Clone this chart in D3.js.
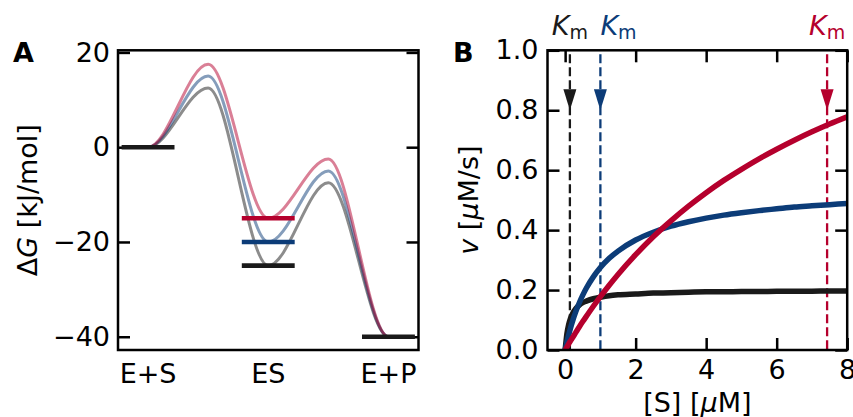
<!DOCTYPE html>
<html><head><meta charset="utf-8">
<script src="https://cdn.jsdelivr.net/npm/d3@7"></script>
<style>body{margin:0;background:#fff} svg{display:block} text{font-family:"DejaVu Sans",sans-serif}</style>
</head><body><svg id="c" width="853" height="417"></svg>
<script>
// ---------- Panel A data ----------
const stateLabels = ["E+S", "ES", "E+P"];
const statePos = [0, 2, 4];
const reactionCoord = [-0.4, 0, 1, 2, 3, 4, 4.4];
const energyBlack = [0, 0, 12.5, -25, -7.5, -40, -40];
const energyBlue  = [0, 0, 15.0, -20, -5.0, -40, -40];
const energyRed   = [0, 0, 17.5, -15, -2.5, -40, -40];
const levelsES = [-25, -20, -15];      // black, blue, red
const levelES0 = 0;                     // E+S level
const levelEP = -40;                    // E+P level
const yTicksA = [20, 0, -20, -40];

// ---------- Panel B data ----------
const substrate = [0, 0.05, 0.1, 0.15, 0.2, 0.3, 0.4, 0.5, 0.6, 0.8, 1.0, 1.25, 1.5, 2, 2.5, 3, 3.5, 4, 4.5, 5, 5.5, 6, 6.5, 7, 7.5, 8];
const vBlack = [0, 0.054, 0.085, 0.105, 0.119, 0.138, 0.150, 0.158, 0.163, 0.171, 0.176, 0.181, 0.184, 0.187, 0.190, 0.191, 0.193, 0.194, 0.194, 0.195, 0.195, 0.196, 0.196, 0.196, 0.197, 0.197];
const vBlue  = [0, 0.026, 0.050, 0.072, 0.092, 0.127, 0.157, 0.183, 0.206, 0.244, 0.275, 0.306, 0.330, 0.367, 0.393, 0.413, 0.428, 0.440, 0.450, 0.458, 0.465, 0.471, 0.477, 0.481, 0.485, 0.489];
const vRed   = [0, 0.010, 0.020, 0.030, 0.039, 0.058, 0.077, 0.095, 0.112, 0.146, 0.178, 0.216, 0.252, 0.318, 0.378, 0.431, 0.480, 0.525, 0.566, 0.603, 0.638, 0.670, 0.700, 0.728, 0.754, 0.778];
const kmValues = [0.135, 1.0, 7.43];    // black, blue, red
const kmArrowTip = 0.8;
const xTicksB = [0, 2, 4, 6, 8];
const yTicksB = [0, 0.2, 0.4, 0.6, 0.8, 1.0];

const colors = ["#1a1a1a", "#0c3c78", "#b5002d"];  // black, blue, red

const FS = 27;
const svg = d3.select("#c");

function frame(g, x0, x1, y0, y1) {
  g.append("rect").attr("x", x0).attr("y", y0).attr("width", x1 - x0).attr("height", y1 - y0)
    .attr("fill", "none").attr("stroke", "#000").attr("stroke-width", 2.5);
}
function styleAxis(sel, showText) {
  sel.select(".domain").remove();
  sel.selectAll(".tick line").attr("stroke", "#000").attr("stroke-width", 2.5);
  sel.selectAll(".tick text").attr("font-size", FS).attr("font-family", "DejaVu Sans").attr("fill", "#000");
  if (!showText) sel.selectAll(".tick text").remove();
  sel.attr("font-family", null).attr("font-size", null);
}

// ================= Panel A =================
const A = {l: 118, r: 418.5, t: 50.3, b: 350};
const xA = d3.scaleLinear().domain([-0.5, 4.5]).range([A.l, A.r]);
const yA = d3.scaleLinear().domain([-42.8, 20.45]).range([A.b, A.t]);
const gA = svg.append("g");

gA.append("g").attr("transform", `translate(${A.l},0)`)
  .call(d3.axisLeft(yA).tickValues(yTicksA).tickSizeInner(-12).tickSizeOuter(0).tickPadding(8))
  .call(s => styleAxis(s, true));
gA.append("g").attr("transform", `translate(${A.r},0)`)
  .call(d3.axisRight(yA).tickValues(yTicksA).tickSizeInner(-12).tickSizeOuter(0))
  .call(s => styleAxis(s, false));

const lineA = d3.line().x((d, i) => xA(reactionCoord[i])).y(d => yA(d)).curve(d3.curveMonotoneX);
const clipA = svg.append("clipPath").attr("id", "clipA").append("rect")
  .attr("x", A.l).attr("y", A.t).attr("width", A.r - A.l).attr("height", A.b - A.t);
const curvesA = gA.append("g").attr("clip-path", "url(#clipA)");
[energyBlack, energyBlue, energyRed].forEach((e, k) => {
  curvesA.append("path").attr("d", lineA(e)).attr("fill", "none")
    .attr("stroke", colors[k]).attr("stroke-opacity", 0.5).attr("stroke-width", 3);
});
// level lines
const hw = 0.44;
function level(x, y, c) {
  gA.append("line").attr("x1", xA(x - hw)).attr("x2", xA(x + hw)).attr("y1", yA(y)).attr("y2", yA(y))
    .attr("stroke", c).attr("stroke-width", 4.6);
}
level(statePos[0], levelES0, colors[0]);
levelsES.forEach((v, k) => level(statePos[1], v, colors[k]));
level(statePos[2], levelEP, colors[0]);

gA.selectAll(".xl").data(stateLabels).join("text")
  .attr("x", (d, i) => xA(statePos[i])).attr("y", 383).attr("text-anchor", "middle")
  .attr("font-size", FS).text(d => d);

frame(gA, A.l, A.r, A.t, A.b);

const yLabA = gA.append("text").attr("transform", `translate(37,${(A.t + A.b) / 2}) rotate(-90)`)
  .attr("text-anchor", "middle").attr("font-size", FS);
yLabA.append("tspan").text("Δ");
yLabA.append("tspan").attr("font-style", "italic").text("G");
yLabA.append("tspan").text(" [kJ/mol]");

svg.append("text").attr("x", 13).attr("y", 62).attr("font-size", FS).attr("font-weight", "bold").text("A");

// ================= Panel B =================
const B = {l: 547.5, r: 847.2, t: 50.3, b: 350};
const xB = d3.scaleLinear().domain([-0.5, 8]).range([B.l, B.r]);
const yB = d3.scaleLinear().domain([0, 1]).range([B.b, B.t]);
const gB = svg.append("g");

gB.append("g").attr("transform", `translate(${B.l},0)`)
  .call(d3.axisLeft(yB).tickValues(yTicksB).tickFormat(d3.format(".1f")).tickSizeInner(-12).tickSizeOuter(0).tickPadding(9))
  .call(s => styleAxis(s, true));
gB.append("g").attr("transform", `translate(${B.r},0)`)
  .call(d3.axisRight(yB).tickValues(yTicksB).tickSizeInner(-12).tickSizeOuter(0))
  .call(s => styleAxis(s, false));
gB.append("g").attr("transform", `translate(0,${B.b})`)
  .call(d3.axisBottom(xB).tickValues(xTicksB).tickFormat(d3.format("d")).tickSizeInner(-12).tickSizeOuter(0).tickPadding(10))
  .call(s => styleAxis(s, true));
gB.append("g").attr("transform", `translate(0,${B.t})`)
  .call(d3.axisTop(xB).tickValues(xTicksB).tickSizeInner(-12).tickSizeOuter(0))
  .call(s => styleAxis(s, false));

svg.append("clipPath").attr("id", "clipB").append("rect")
  .attr("x", B.l).attr("y", B.t).attr("width", B.r - B.l).attr("height", B.b - B.t);
const plotB = gB.append("g").attr("clip-path", "url(#clipB)");

// Km dashed lines + arrows
kmValues.forEach((km, k) => {
  plotB.append("line").attr("x1", xB(km)).attr("x2", xB(km)).attr("y1", yB(1)).attr("y2", yB(0))
    .attr("stroke", colors[k]).attr("stroke-width", 2.3).attr("stroke-dasharray", "9,4").attr("stroke-dashoffset", -4);
  const tx = xB(km), ty = yB(kmArrowTip);
  plotB.append("path").attr("d", `M${tx},${ty} L${tx - 6.5},${ty - 21} L${tx + 6.5},${ty - 21} Z`)
    .attr("fill", colors[k]);
});

const lineB = d3.line().x((d, i) => xB(substrate[i])).y(d => yB(d)).curve(d3.curveMonotoneX);
[vBlack, vBlue, vRed].forEach((v, k) => {
  plotB.append("path").attr("d", lineB(v)).attr("fill", "none")
    .attr("stroke", colors[k]).attr("stroke-width", 5.5);
});

frame(gB, B.l, B.r, B.t, B.b);

// Km labels
const kmAnchor = ["middle", "start", "middle"];
kmValues.forEach((km, k) => {
  const t = svg.append("text").attr("x", xB(km)).attr("y", 35).attr("text-anchor", kmAnchor[k])
    .attr("font-size", FS).attr("fill", colors[k]);
  t.append("tspan").attr("font-style", "italic").text("K");
  t.append("tspan").attr("font-size", 19).attr("dy", 4).text("m");
});

const yLabB = gB.append("text").attr("transform", `translate(478,${(B.t + B.b) / 2}) rotate(-90)`)
  .attr("text-anchor", "middle").attr("font-size", FS);
yLabB.append("tspan").attr("font-style", "italic").text("v");
yLabB.append("tspan").text(" [");
yLabB.append("tspan").attr("font-style", "italic").text("μ");
yLabB.append("tspan").text("M/s]");

const xLabB = gB.append("text").attr("x", (B.l + B.r) / 2).attr("y", 412)
  .attr("text-anchor", "middle").attr("font-size", FS);
xLabB.append("tspan").text("[S] [");
xLabB.append("tspan").attr("font-style", "italic").text("μ");
xLabB.append("tspan").text("M]");

svg.append("text").attr("x", 453).attr("y", 62).attr("font-size", FS).attr("font-weight", "bold").text("B");
</script>
</body></html>
